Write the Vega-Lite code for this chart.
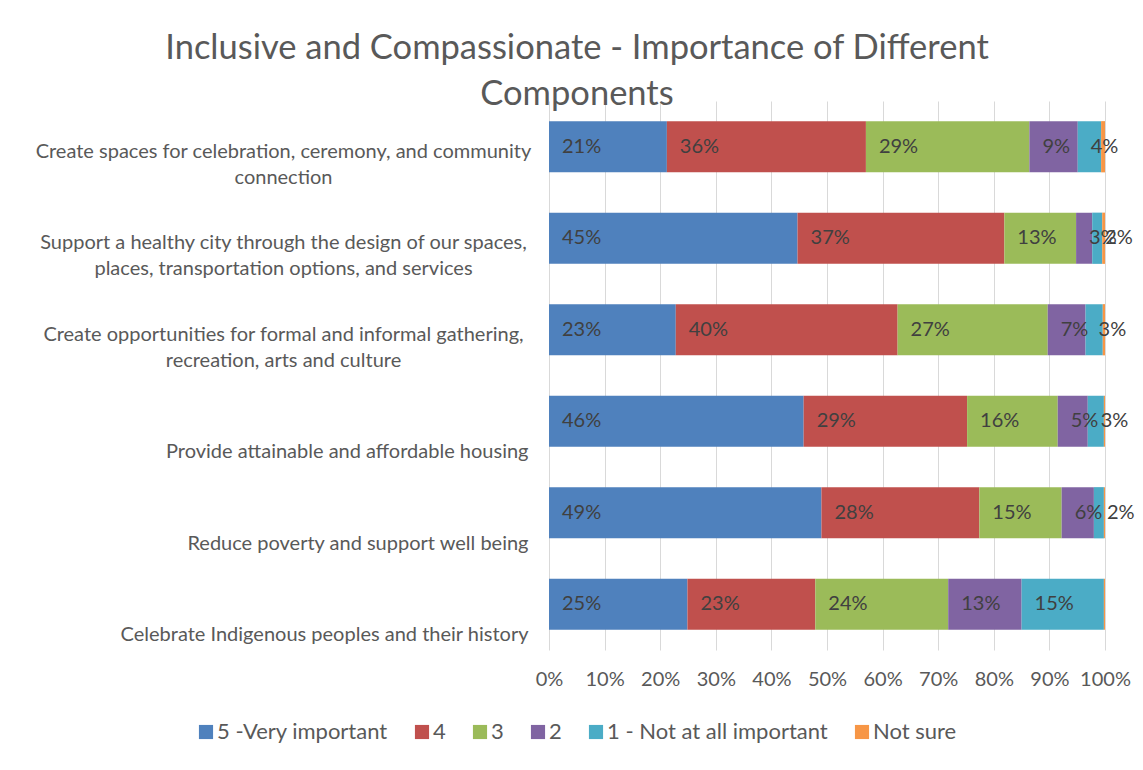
{
  "$schema": "https://vega.github.io/schema/vega-lite/v6.json",
  "width": 556,
  "height": 549,
  "autosize": {"type": "none"},
  "padding": {"left": 549, "top": 101, "right": 38, "bottom": 120},
  "background": "white",
  "title": {
    "text": ["Inclusive and Compassionate - Importance of Different", "Components"],
    "anchor": "middle",
    "frame": "group",
    "dx": -250,
    "offset": -11,
    "fontSize": 34.5,
    "lineHeight": 46,
    "font": "Lato",
    "fontWeight": "normal",
    "color": "#595959"
  },
  "data": {
    "values": [
      {"item": "Create spaces for celebration, ceremony, and community connection", "rating": "5 -Very important", "rank": 1, "value": 0.212},
      {"item": "Create spaces for celebration, ceremony, and community connection", "rating": "4", "rank": 2, "value": 0.358},
      {"item": "Create spaces for celebration, ceremony, and community connection", "rating": "3", "rank": 3, "value": 0.294},
      {"item": "Create spaces for celebration, ceremony, and community connection", "rating": "2", "rank": 4, "value": 0.087},
      {"item": "Create spaces for celebration, ceremony, and community connection", "rating": "1 - Not at all important", "rank": 5, "value": 0.042},
      {"item": "Create spaces for celebration, ceremony, and community connection", "rating": "Not sure", "rank": 6, "value": 0.007},
      {"item": "Support a healthy city through the design of our spaces, places, transportation options, and services", "rating": "5 -Very important", "rank": 1, "value": 0.447},
      {"item": "Support a healthy city through the design of our spaces, places, transportation options, and services", "rating": "4", "rank": 2, "value": 0.372},
      {"item": "Support a healthy city through the design of our spaces, places, transportation options, and services", "rating": "3", "rank": 3, "value": 0.129},
      {"item": "Support a healthy city through the design of our spaces, places, transportation options, and services", "rating": "2", "rank": 4, "value": 0.029},
      {"item": "Support a healthy city through the design of our spaces, places, transportation options, and services", "rating": "1 - Not at all important", "rank": 5, "value": 0.018},
      {"item": "Support a healthy city through the design of our spaces, places, transportation options, and services", "rating": "Not sure", "rank": 6, "value": 0.005},
      {"item": "Create opportunities for formal and informal gathering, recreation, arts and culture", "rating": "5 -Very important", "rank": 1, "value": 0.228},
      {"item": "Create opportunities for formal and informal gathering, recreation, arts and culture", "rating": "4", "rank": 2, "value": 0.399},
      {"item": "Create opportunities for formal and informal gathering, recreation, arts and culture", "rating": "3", "rank": 3, "value": 0.270},
      {"item": "Create opportunities for formal and informal gathering, recreation, arts and culture", "rating": "2", "rank": 4, "value": 0.068},
      {"item": "Create opportunities for formal and informal gathering, recreation, arts and culture", "rating": "1 - Not at all important", "rank": 5, "value": 0.031},
      {"item": "Create opportunities for formal and informal gathering, recreation, arts and culture", "rating": "Not sure", "rank": 6, "value": 0.004},
      {"item": "Provide attainable and affordable housing", "rating": "5 -Very important", "rank": 1, "value": 0.458},
      {"item": "Provide attainable and affordable housing", "rating": "4", "rank": 2, "value": 0.294},
      {"item": "Provide attainable and affordable housing", "rating": "3", "rank": 3, "value": 0.163},
      {"item": "Provide attainable and affordable housing", "rating": "2", "rank": 4, "value": 0.054},
      {"item": "Provide attainable and affordable housing", "rating": "1 - Not at all important", "rank": 5, "value": 0.029},
      {"item": "Provide attainable and affordable housing", "rating": "Not sure", "rank": 6, "value": 0.002},
      {"item": "Reduce poverty and support well being", "rating": "5 -Very important", "rank": 1, "value": 0.490},
      {"item": "Reduce poverty and support well being", "rating": "4", "rank": 2, "value": 0.284},
      {"item": "Reduce poverty and support well being", "rating": "3", "rank": 3, "value": 0.148},
      {"item": "Reduce poverty and support well being", "rating": "2", "rank": 4, "value": 0.058},
      {"item": "Reduce poverty and support well being", "rating": "1 - Not at all important", "rank": 5, "value": 0.018},
      {"item": "Reduce poverty and support well being", "rating": "Not sure", "rank": 6, "value": 0.002},
      {"item": "Celebrate Indigenous peoples and their history", "rating": "5 -Very important", "rank": 1, "value": 0.249},
      {"item": "Celebrate Indigenous peoples and their history", "rating": "4", "rank": 2, "value": 0.230},
      {"item": "Celebrate Indigenous peoples and their history", "rating": "3", "rank": 3, "value": 0.239},
      {"item": "Celebrate Indigenous peoples and their history", "rating": "2", "rank": 4, "value": 0.132},
      {"item": "Celebrate Indigenous peoples and their history", "rating": "1 - Not at all important", "rank": 5, "value": 0.148},
      {"item": "Celebrate Indigenous peoples and their history", "rating": "Not sure", "rank": 6, "value": 0.002}
    ]
  },
  "transform": [
    {"stack": "value", "groupby": ["item"], "offset": "normalize", "sort": [{"field": "rank", "order": "ascending"}], "as": ["v0", "v1"]}
  ],
  "encoding": {
    "y": {
      "field": "item",
      "type": "nominal",
      "sort": null,
      "scale": {"paddingInner": 0.44, "paddingOuter": 0.22},
      "axis": {
        "title": null,
        "ticks": false,
        "domain": false,
        "labelFont": "Lato",
        "labelFontSize": 20,
        "labelColor": "#595959",
        "labelLimit": 700,
        "labelBaseline": "bottom",
        "labelLineHeight": 26,
        "labelOffset": {"condition": {"test": "length(datum.value) > 50", "value": 15}, "value": 41},
        "labelAlign": {"condition": {"test": "length(datum.value) > 50", "value": "center"}, "value": "right"},
        "labelPadding": {"condition": {"test": "length(datum.value) > 50", "value": 266}, "value": 21},
        "labelExpr": "datum.value == 'Create spaces for celebration, ceremony, and community connection' ? ['Create spaces for celebration, ceremony, and community', 'connection'] : datum.value == 'Support a healthy city through the design of our spaces, places, transportation options, and services' ? ['Support a healthy city through the design of our spaces,', 'places, transportation options, and services'] : datum.value == 'Create opportunities for formal and informal gathering, recreation, arts and culture' ? ['Create opportunities for formal and informal gathering,', 'recreation, arts and culture'] : datum.label"
      }
    }
  },
  "layer": [
    {
      "mark": {"type": "bar"},
      "encoding": {
        "x": {
          "field": "v0",
          "type": "quantitative",
          "scale": {"domain": [0, 1], "nice": false},
          "axis": {
            "title": null,
            "values": [0, 0.1, 0.2, 0.3, 0.4, 0.5, 0.6, 0.7, 0.8, 0.9, 1],
            "format": ".0%",
            "domain": false,
            "ticks": false,
            "grid": true,
            "gridColor": "#D9D9D9",
            "gridWidth": 1,
            "labelFont": "Lato",
            "labelFontSize": 20,
            "labelColor": "#595959",
            "labelPadding": 19,
            "labelFlush": false
          }
        },
        "x2": {"field": "v1"},
        "color": {
          "field": "rating",
          "type": "nominal",
          "scale": {
            "domain": ["5 -Very important", "4", "3", "2", "1 - Not at all important", "Not sure"],
            "range": ["#4F81BD", "#C0504D", "#9BBB59", "#8064A2", "#4BACC6", "#F79646"]
          },
          "legend": {
            "title": null,
            "orient": "none",
            "legendX": -354,
            "legendY": 620,
            "direction": "horizontal",
            "symbolType": "square",
            "symbolSize": 200,
            "symbolStrokeWidth": 0,
            "labelFont": "Lato",
            "labelFontSize": 22,
            "labelColor": "#595959",
            "labelOffset": 0,
            "labelLimit": 400,
            "columnPadding": 23
          }
        }
      }
    },
    {
      "transform": [{"filter": "datum.rating != 'Not sure'"}],
      "mark": {"type": "text", "align": "left", "baseline": "middle", "dx": 13, "font": "Lato", "fontSize": 20, "color": "#404040"},
      "encoding": {
        "x": {"field": "v0", "type": "quantitative"},
        "text": {"field": "value", "type": "quantitative", "format": ".0%"}
      }
    }
  ],
  "config": {
    "view": {"stroke": null}
  }
}
